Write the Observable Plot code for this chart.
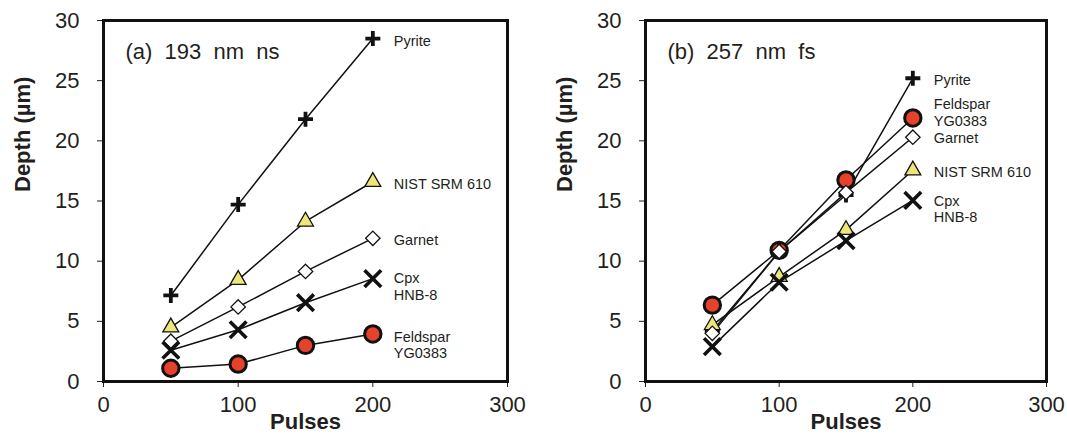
<!DOCTYPE html>
<html>
<head>
<meta charset="utf-8">
<script src="https://cdn.jsdelivr.net/npm/d3@7"></script>
<script src="https://cdn.jsdelivr.net/npm/@observablehq/plot@0.6"></script>
<style>
  html, body { margin: 0; padding: 0; background: #fff; }
  #wrap { position: relative; width: 1067px; height: 435px; overflow: hidden; }
  #wrap > svg { position: absolute; top: 0; }
</style>
</head>
<body>
<div id="wrap"></div>
<script>
// ---- data ----
const pulses = [50, 100, 150, 200];
const seriesNames = ["Pyrite", "NIST SRM 610", "Garnet", "Cpx\nHNB-8", "Feldspar\nYG0383"];
const xTicks = [0, 100, 200, 300];
const yTicks = [0, 5, 10, 15, 20, 25, 30];

// panel (a) 193 nm ns
const pyriteA   = [7.15, 14.7, 21.8, 28.5];
const nistA     = [4.5, 8.45, 13.3, 16.6];
const garnetA   = [3.35, 6.2, 9.15, 11.9];
const cpxA      = [2.6, 4.3, 6.55, 8.55];
const feldsparA = [1.1, 1.45, 3.0, 3.95];
const labelYA   = [28.35, 16.46, 11.8, 7.9, 3.07];

// panel (b) 257 nm fs
const pyriteB   = [4.2, 10.8, 15.5, 25.2];
const nistB     = [4.7, 8.7, 12.6, 17.55];
const garnetB   = [4.0, 10.8, 15.7, 20.3];
const cpxB      = [2.9, 8.25, 11.7, 15.05];
const feldsparB = [6.35, 10.9, 16.75, 21.9];
const labelYB   = [25.08, 17.43, 20.26, 14.36, 22.4];

const titleA = "(a)\u00a0 193\u00a0 nm\u00a0 ns";
const titleB = "(b)\u00a0 257\u00a0 nm\u00a0 fs";

// ---- styles ----
const markerStyle = {
  "Pyrite":          {symbol: "plus",     r: 4.9, fill: "none",    stroke: "#111", strokeWidth: 3.8},
  "NIST SRM 610":    {symbol: "triangle", r: 5.9, fill: "#ede77a", stroke: "#111", strokeWidth: 1.3},
  "Garnet":          {symbol: "diamond2", r: 6.5, fill: "#fff",    stroke: "#111", strokeWidth: 1.3},
  "Cpx\nHNB-8":      {symbol: "times",    r: 7.6, fill: "none",    stroke: "#111", strokeWidth: 3.6},
  "Feldspar\nYG0383":{symbol: "circle",   r: 8.2, fill: "#e6412b", stroke: "#111", strokeWidth: 3}
};
const drawOrder = ["Feldspar\nYG0383", "Pyrite", "NIST SRM 610", "Garnet", "Cpx\nHNB-8"];

function buildRows(arrays) {
  const rows = [];
  seriesNames.forEach((s, i) => {
    pulses.forEach((p, j) => rows.push({series: s, pulses: p, depth: arrays[i][j]}));
  });
  return rows;
}

function makePanel(arrays, labelY, title, opts) {
  const rows = buildRows(arrays);
  const labels = seriesNames.map((s, i) => ({series: s, pulses: pulses[pulses.length - 1], depth: labelY[i]}));
  const font = "'Liberation Sans', Arial, sans-serif";
  const marks = [
    Plot.line(rows, {x: "pulses", y: "depth", z: "series", stroke: "#111", strokeWidth: 1.5}),
    ...drawOrder.map(s => Plot.dot(rows.filter(d => d.series === s), {x: "pulses", y: "depth", ...markerStyle[s]})),
    Plot.text(labels, {x: "pulses", y: "depth", text: "series", dx: 21, textAnchor: "start", lineAnchor: "middle",
      fontSize: 14.5, lineHeight: 1.15, fill: "#231f20"}),
    Plot.text([title], {frameAnchor: "top-left", dx: 22, dy: 31, textAnchor: "start", lineAnchor: "middle",
      fontSize: 22, fill: "#231f20"}),
    Plot.text(["Pulses"], {frameAnchor: "bottom", dy: 40, lineAnchor: "middle", fontSize: 22, fontWeight: "bold", fill: "#231f20"}),
    Plot.text(["Depth (\u00b5m)"], {frameAnchor: "left", dx: -81, dy: -9, rotate: -90, lineAnchor: "middle", fontSize: 22, fontWeight: "bold", fill: "#231f20"}),
    Plot.frame({stroke: "#111", strokeWidth: 3})
  ];
  const svg = Plot.plot({
    width: opts.width, height: 435,
    marginLeft: opts.marginLeft, marginRight: opts.marginRight, marginTop: 20, marginBottom: 54,
    style: {fontFamily: font, fontSize: "22px", color: "#231f20", background: "transparent", overflow: "visible"},
    x: {domain: [0, 300], ticks: xTicks, tickSize: 6, tickPadding: 9, label: null},
    y: {domain: [0, 30], ticks: yTicks, tickSize: 6, tickPadding: 18, label: null},
    marks
  });
  svg.style.left = opts.left + "px";
  return svg;
}

const wrap = document.getElementById("wrap");
wrap.appendChild(makePanel([pyriteA, nistA, garnetA, cpxA, feldsparA], labelYA, titleA,
  {left: 0, width: 534, marginLeft: 103, marginRight: 27}));
wrap.appendChild(makePanel([pyriteB, nistB, garnetB, cpxB, feldsparB], labelYB, titleB,
  {left: 534, width: 533, marginLeft: 111, marginRight: 21}));
</script>
</body>
</html>
